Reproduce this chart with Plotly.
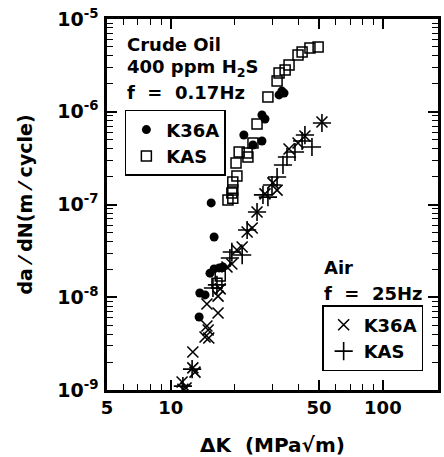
import plotly.graph_objects as go

# Crude oil, 400 ppm H2S, f = 0.17 Hz
oil_k36a_dk = [13.6, 13.7, 14.5, 15.3, 16.0, 16.9, 17.6, 15.5, 16.0, 22.1, 24.4, 26.9, 26.9, 27.8, 32.4, 33.4, 34.2]
oil_k36a_dadn = [6.12e-9, 1.11e-8, 1.06e-8, 1.82e-8, 2.02e-8, 2.07e-8, 2.12e-8, 1.04e-7, 4.46e-8, 5.61e-7, 4.38e-7, 4.84e-7, 9.23e-7, 8.35e-7, 1.52e-6, 1.67e-6, 1.59e-6]

oil_kas_dk = [28.7, 31.7, 32.4, 34.6, 36.1, 39.8, 41.6, 45.3, 49.5, 25.5, 24.4, 22.9, 21.0, 23.1, 20.3, 20.5, 19.6, 19.6, 19.4, 18.6, 19.6, 17.1, 16.5]
oil_kas_dadn = [1.44e-6, 2.15e-6, 2.62e-6, 2.82e-6, 3.19e-6, 4.09e-6, 4.41e-6, 4.87e-6, 4.99e-6, 7.38e-7, 4.60e-7, 3.59e-7, 3.68e-7, 3.25e-7, 2.80e-7, 2.03e-7, 1.75e-7, 1.43e-7, 1.33e-7, 1.12e-7, 1.17e-7, 1.69e-8, 1.42e-8]

# Air, f = 25 Hz
air_k36a_dk = [11.4, 11.8, 11.3, 12.7, 13.0, 12.7, 14.5, 15.1, 14.8, 15.0, 14.8, 16.7, 16.7, 17.1, 18.4, 19.4, 20.5, 21.7, 22.9, 24.2, 25.5, 27.8, 30.3, 31.7, 36.1, 39.8, 42.9, 51.6]
air_k36a_dadn = [1.02e-9, 1.05e-9, 1.22e-9, 1.73e-9, 1.56e-9, 2.57e-9, 3.73e-9, 3.64e-9, 4.90e-9, 4.43e-9, 8.46e-9, 6.76e-9, 1.03e-8, 1.23e-8, 2.12e-8, 2.28e-8, 3.23e-8, 3.48e-8, 5.05e-8, 5.58e-8, 8.30e-8, 1.30e-7, 1.71e-7, 1.43e-7, 3.97e-7, 4.60e-7, 5.48e-7, 7.75e-7]

air_kas_dk = [11.4, 12.6, 15.8, 16.5, 19.0, 19.4, 21.7, 22.9, 25.5, 27.2, 28.7, 30.0, 31.7, 33.8, 35.3, 38.5, 41.6, 42.9, 46.3, 51.6]
air_kas_dadn = [1.10e-9, 1.68e-9, 1.26e-8, 1.36e-8, 2.65e-8, 3.08e-8, 2.85e-8, 5.31e-8, 8.30e-8, 1.27e-7, 1.20e-7, 1.62e-7, 1.98e-7, 2.67e-7, 3.25e-7, 3.68e-7, 4.84e-7, 5.61e-7, 4.17e-7, 7.56e-7]

x_tickvals = [5, 10, 50, 100]
x_ticktext = ["5", "10", "50", "100"]
x_minor = [6, 7, 8, 9, 20, 30, 40, 60, 70, 80, 90]
y_tickvals = [1e-9, 1e-8, 1e-7, 1e-6, 1e-5]
y_ticktext = ["10<sup>-9</sup>", "10<sup>-8</sup>", "10<sup>-7</sup>", "10<sup>-6</sup>", "10<sup>-5</sup>"]
y_minor = [m * 10.0 ** e for e in range(-9, -5) for m in range(2, 10)]

FONT = "DejaVu Sans"

fig = go.Figure()
fig.add_trace(go.Scatter(x=oil_k36a_dk, y=oil_k36a_dadn, mode="markers", name="K36A",
                         marker=dict(symbol="circle", size=9, color="black"), legend="legend"))
fig.add_trace(go.Scatter(x=oil_kas_dk, y=oil_kas_dadn, mode="markers", name="KAS",
                         marker=dict(symbol="square-open", size=10, color="black", line=dict(width=1.5)), legend="legend"))
fig.add_trace(go.Scatter(x=air_k36a_dk, y=air_k36a_dadn, mode="markers", name="K36A",
                         marker=dict(symbol="x-thin-open", size=11, color="black", line=dict(width=1.6, color="black")), legend="legend2"))
fig.add_trace(go.Scatter(x=air_kas_dk, y=air_kas_dadn, mode="markers", name="KAS",
                         marker=dict(symbol="cross-thin-open", size=13, color="black", line=dict(width=1.6, color="black")), legend="legend2"))

axis_common = dict(type="log", showgrid=False, zeroline=False, showline=True, linecolor="black", linewidth=2.5,
                   mirror="allticks", ticks="inside", ticklen=10, tickwidth=1.5, tickcolor="black", automargin=False)

fig.update_xaxes(**axis_common, range=[0.699, 2.26], tickmode="array", tickvals=x_tickvals, ticktext=x_ticktext,
                 tickfont=dict(size=18, family=FONT, weight="bold", color="black"),
                 minor=dict(tickmode="array", tickvals=x_minor, ticks="inside", ticklen=6, tickwidth=1.3, tickcolor="black", showgrid=False),
                 title=dict(text="ΔK  (MPa√m)", font=dict(size=20, family=FONT, weight="bold", color="black"), standoff=22))
fig.update_yaxes(**axis_common, range=[-9, -5], tickmode="array", tickvals=y_tickvals, ticktext=y_ticktext,
                 tickfont=dict(size=19, family=FONT, weight="bold", color="black"), ticklabelstandoff=2,
                 minor=dict(tickmode="array", tickvals=y_minor, ticks="inside", ticklen=6, tickwidth=1.3, tickcolor="black", showgrid=False),
                 title=dict(text="da ⁄ dN(m ⁄ cycle)", font=dict(size=19, family=FONT, weight="bold", color="black"), standoff=20))

ann_font = dict(size=18, family=FONT, weight="bold", color="black")
notes = [
    (0.055, 0.930, "Crude Oil"),
    (0.055, 0.868, "400 ppm H<sub>2</sub>S"),
    (0.055, 0.801, "f  =  0.17Hz"),
    (0.650, 0.329, "Air"),
    (0.650, 0.261, "f  =  25Hz"),
]
for x, y, t in notes:
    fig.add_annotation(x=x, y=y, xref="paper", yref="paper", text=t, showarrow=False,
                       xanchor="left", yanchor="middle", font=ann_font)

leg_font = dict(size=18, family=FONT, weight="bold", color="black")
fig.update_layout(
    width=444, height=457,
    margin=dict(l=107, r=6, t=19, b=67),
    paper_bgcolor="white", plot_bgcolor="white",
    font=dict(family=FONT, color="black"),
    legend=dict(x=0.054, y=0.755, xanchor="left", yanchor="top", bordercolor="black", borderwidth=1.5,
                bgcolor="white", font=leg_font, itemwidth=30, tracegroupgap=0),
    legend2=dict(x=0.650, y=0.229, xanchor="left", yanchor="top", bordercolor="black", borderwidth=1.5,
                 bgcolor="white", font=leg_font, itemwidth=30, tracegroupgap=0),
)

fig.write_html("out.html")
